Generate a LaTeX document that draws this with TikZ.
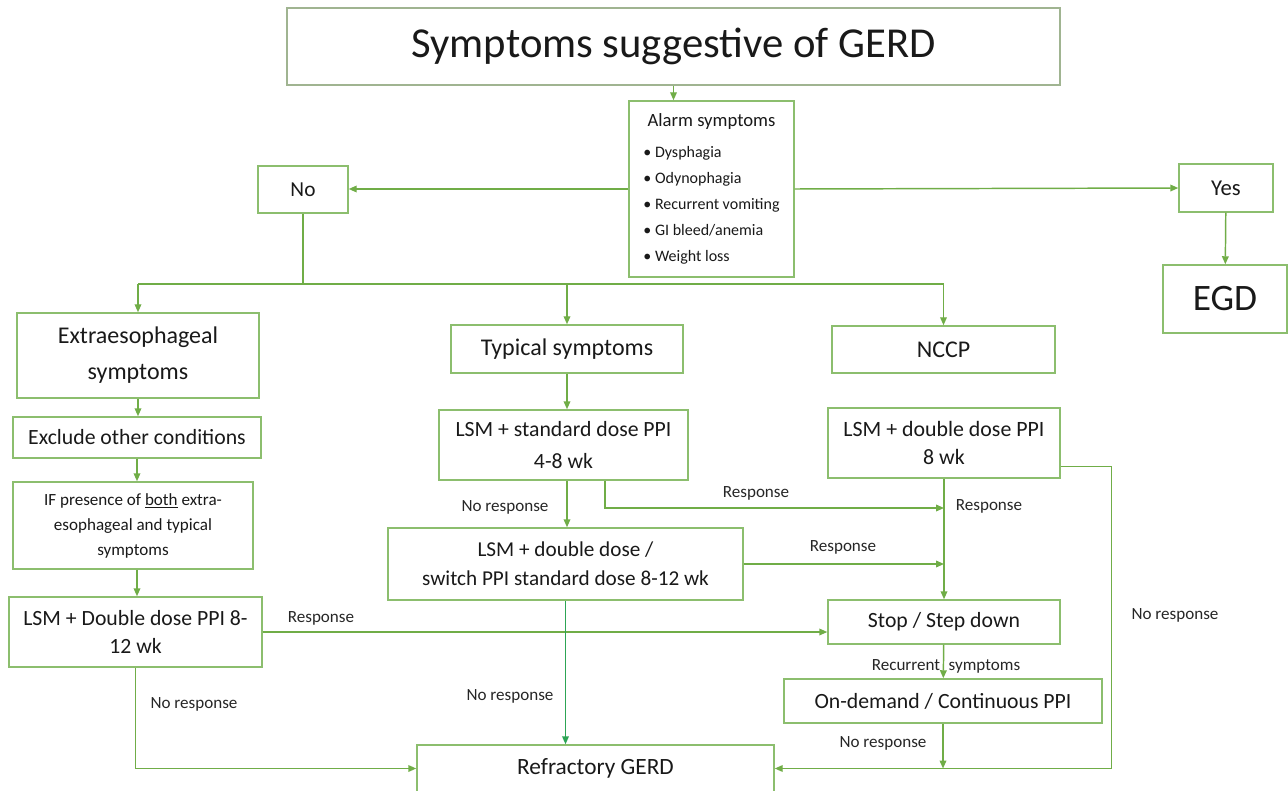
\documentclass[tikz,border=0pt]{standalone}
\usepackage{fontspec}
\setmainfont{Carlito}
\usetikzlibrary{arrows.meta,positioning,calc}

\definecolor{flowline}{RGB}{112,173,71}
\definecolor{boxline}{RGB}{140,190,110}
\definecolor{titleline}{RGB}{160,180,145}
\definecolor{deepline}{RGB}{45,165,85}

\begin{document}
\begin{tikzpicture}[x=0.75pt,y=-0.75pt,>={Triangle[length=6pt,width=5pt]}]
       \tikzstyle{box}=[draw=boxline, line width=1.1pt, rectangle, align=center, inner sep=2pt, text=black!90]
       \tikzstyle{lbl}=[font=\fontsize{12.8}{15}\selectfont, inner sep=1pt, text=black!85]
       \tikzstyle{flow}=[draw=flowline, line width=1.1pt]
       \useasboundingbox (0,0) rectangle (1288,791);

       \node[box, draw=titleline, minimum width=579.75pt, minimum height=57.75pt, font=\fontsize{32}{38}\selectfont] (title) at (673.5,46.5) {Symptoms suggestive of GERD};
       \node[box, minimum width=123.75pt, minimum height=132pt, font=\fontsize{12}{19.5}\selectfont] (alarm) at (711.5,189)
         {\begin{tabular}{@{}l@{}}
          \multicolumn{1}{@{}c@{}}{\fontsize{14}{17}\selectfont Alarm symptoms}\\[3.5pt]
          \textbullet\ Dysphagia\\
          \textbullet\ Odynophagia\\
          \textbullet\ Recurrent vomiting\\
          \textbullet\ GI bleed/anemia\\
          \textbullet\ Weight loss
          \end{tabular}};
       \node[box, minimum width=67.5pt, minimum height=35.25pt, font=\fontsize{16}{19}\selectfont] (no) at (303,189.5) {No};
       \node[box, minimum width=70.5pt, minimum height=36pt, font=\fontsize{17}{20}\selectfont] (yes) at (1226,188) {Yes};
       \node[box, minimum width=93pt, minimum height=51pt, font=\fontsize{28}{32}\selectfont] (egd) at (1225,299) {EGD};

       \node[box, minimum width=181.5pt, minimum height=63.75pt, font=\fontsize{18}{27}\selectfont] (extra) at (138,355.5) {Extraesophageal\\symptoms};
       \node[box, minimum width=174pt, minimum height=36pt, font=\fontsize{18}{21}\selectfont] (typical) at (567,349) {Typical symptoms};
       \node[box, minimum width=167.25pt, minimum height=35.25pt, font=\fontsize{18}{21}\selectfont] (nccp) at (943.5,349.5) {NCCP};

       \node[box, minimum width=186pt, minimum height=30.75pt, font=\fontsize{16.3}{19}\selectfont] (exclude) at (137,437.5) {Exclude other conditions};
       \node[box, minimum width=180pt, minimum height=65.25pt, font=\fontsize{12.8}{18.75}\selectfont] (both) at (133,525.5) {IF presence of \underline{both} extra-\\esophageal and typical\\symptoms};
       \node[box, minimum width=189.75pt, minimum height=52.5pt, font=\fontsize{16.3}{21}\selectfont] (extppi) at (135.5,632) {LSM + Double dose PPI 8-\\12 wk};

       \node[box, minimum width=186.75pt, minimum height=52.5pt, font=\fontsize{16.3}{24}\selectfont] (stdppi) at (563.5,445) {LSM + standard dose PPI\\4-8 wk};
       \node[box, minimum width=266.25pt, minimum height=54pt, font=\fontsize{15.9}{21.75}\selectfont] (switchppi) at (565.5,564) {LSM + double dose /\\switch PPI standard dose 8-12 wk};

       \node[box, minimum width=174pt, minimum height=52.5pt, font=\fontsize{16.4}{21}\selectfont] (ncppi) at (944,443) {LSM + double dose PPI\\8 wk};
       \node[box, minimum width=174pt, minimum height=33pt, font=\fontsize{16.3}{19}\selectfont] (stopdown) at (944,622) {Stop / Step down};
       \node[box, minimum width=238.5pt, minimum height=33pt, font=\fontsize{16.3}{19}\selectfont] (ondemand) at (943,701) {On-demand / Continuous PPI};

       \node[box, minimum width=267.75pt, minimum height=35.25pt, font=\fontsize{17.5}{20}\selectfont] (refractory) at (595.5,768.5) {Refractory GERD};

       \coordinate (bus) at (303,284);
       \coordinate (resp1) at (944,508);

       \draw[flow,->] (title.south) -- (title.south |- alarm.north);
       \draw[flow,->] (alarm.west) -- (alarm.west -| no.east);
       \draw[flow,->] (alarm.east) -- (yes.west);
       \draw[flow,->] (yes) -- (egd);

       \draw[flow] (no) -- (bus);
       \draw[flow] (bus -| extra.north) -- (bus -| nccp.north);
       \path[->, flowline, line width=1.1pt]
       (bus -| extra.north) edge (extra)
       (bus -| typical.north) edge (typical)
       (bus -| nccp.north) edge (nccp);

       \draw[flow,->] (extra.south) -- (extra.south |- exclude.north);
       \draw[flow,->] (exclude.south) -- (exclude.south |- both.north);
       \draw[flow,->] (exclude.south |- both.south) -- (exclude.south |- extppi.north);

       \draw[flow,->] (typical.south) -- (typical.south |- stdppi.north);
       \draw[flow,->] (typical.south |- stdppi.south) -- (typical.south |- switchppi.north);
       \draw[flow,->] ($(stdppi.south)+(41.5,0)$) |- (resp1);
       \draw[flow,->] (switchppi.east) -- (switchppi.east -| ncppi.south);
       \draw[flow,->] (ncppi) -- (stopdown);
       \draw[flow,->] (extppi.east) -- (extppi.east -| stopdown.west);
       \draw[flow,->] (stopdown) -- (ondemand);

       \draw[flow,->] (extppi.south) |- (refractory.west);
       \draw[draw=deepline, line width=1.1pt, ->] (switchppi.south) -- (switchppi.south |- refractory.north);
       \draw[flow,->] (ondemand.south) -- (ondemand.south |- refractory.east);
       \draw[flow,->] ($(ncppi.south east)+(0,-12)$) -- ++(51,0) |- (refractory.east);

       \node[lbl] (nr1) at (505,507) {No response};
       \node[lbl] (r1) at (756,493) {Response};
       \node[lbl] (r2) at (843,547) {Response};
       \node[lbl] (r3) at (989,506) {Response};
       \node[lbl] (r4) at (321,618) {Response};
       \node[lbl] (nr2) at (194,704) {No response};
       \node[lbl] (nr3) at (510,696) {No response};
       \node[lbl] (rec) at (946,666) {Recurrent\enspace symptoms};
       \node[lbl] (nr4) at (883,743) {No response};
       \node[lbl] (nr5) at (1175,615) {No response};
     \end{tikzpicture}
\end{document}
